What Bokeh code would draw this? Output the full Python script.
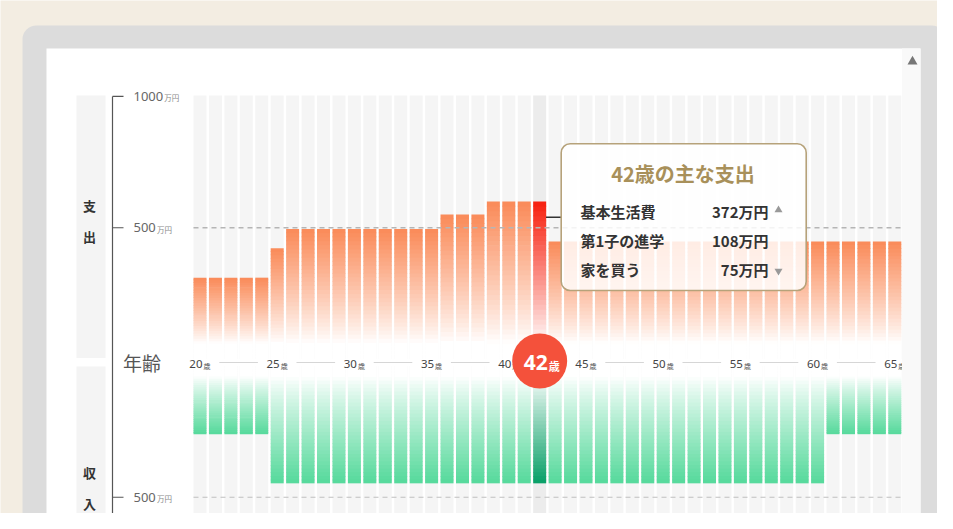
import numpy as np
from bokeh.plotting import figure
from bokeh.models import Range1d, ColumnDataSource
from bokeh.core.properties import value
from bokeh.embed import file_html
from bokeh.resources import INLINE

# ---------------- data ----------------
ages = list(range(20, 66))
expense = [310, 310, 310, 310, 310, 422,
           495, 495, 495, 495, 495, 495, 495, 495, 495, 495,
           550, 550, 550,
           600, 600, 600, 600,
           448, 448, 448, 448, 448, 448, 448, 448, 448, 448, 448, 448,
           448, 448, 448, 448, 448, 448, 448, 448, 448, 448, 448]
income = [260, 260, 260, 260, 260,
          447, 447, 447, 447, 447, 447, 447, 447, 447, 447, 447, 447,
          447, 447, 447, 447, 447, 447, 447, 447, 447, 447, 447, 447,
          447, 447, 447, 447, 447, 447, 447, 447, 447, 447, 447, 447,
          260, 260, 260, 260, 260]
highlight_age = 42
tick_ages = [20, 25, 30, 35, 40, 45, 50, 55, 60, 65]
exp_ticks = [1000, 500]
inc_ticks = [500]
tip_items = ["基本生活費", "第1子の進学", "家を買う"]
tip_values = [372, 108, 75]

# ---------------- geometry / style ----------------
W, H = 937, 513
PITCH = 15.44
X20 = 199.5
S = 0.2627
EZ = 358.6
IZ = 365.4
BW = 13 / PITCH
COL_TOP = 1003
INC_COL_END = 700

BEIGE = "#f3ede2"
JP = value("Noto Sans CJK JP")
LAT = value("Noto Sans")

x_start = 20 - X20 / PITCH
p = figure(width=W, height=H,
           x_range=Range1d(x_start, x_start + W / PITCH),
           y_range=Range1d(-(H - EZ) / S, EZ / S),
           x_axis_type=None, y_axis_type=None,
           toolbar_location=None, output_backend="svg",
           min_border=0, min_border_left=0, min_border_right=0,
           min_border_top=0, min_border_bottom=0,
           outline_line_color=None,
           background_fill_color=BEIGE, border_fill_color=BEIGE)
p.extra_x_ranges = {"px": Range1d(0, W)}
p.extra_y_ranges = {"py": Range1d(H, 0),
                    "inc": Range1d((H - IZ) / S, -IZ / S)}

PX = dict(x_range_name="px", y_range_name="py")

# frame decorations
p.quad(left=22, right=945, top=25, bottom=600, fill_color="#dcdcdc",
       line_color=None, border_radius=14, **PX)
p.quad(left=46, right=920, top=48, bottom=600, fill_color="white",
       line_color=None, **PX)
p.quad(left=[76, 76], right=[105, 105], top=[95, 366], bottom=[357.5, 600],
       fill_color="#f4f4f4", line_color=None, **PX)

# background columns
col_colors = ["#ececec" if a == highlight_age else "#f5f5f5" for a in ages]
p.vbar(x=ages, width=BW, bottom=0, top=COL_TOP, fill_color=col_colors, line_color=None)
p.vbar(x=ages, width=BW, bottom=0, top=INC_COL_END, fill_color=col_colors,
       line_color=None, y_range_name="inc")


def mix(c, f):
    r, g, b = int(c[1:3], 16), int(c[3:5], 16), int(c[5:7], 16)
    return "#%02x%02x%02x" % (round(255 + (r - 255) * f),
                              round(255 + (g - 255) * f),
                              round(255 + (b - 255) * f))


def gradient(xs, vals, cols, vb, n=32, gamma=0.9):
    X, B, T, C = [], [], [], []
    for x, v, c in zip(xs, vals, cols):
        edges = np.linspace(0, v, n + 1)
        for k in range(n):
            e0, e1 = edges[k], edges[k + 1]
            mid = (e0 + e1) / 2
            f = max(0.0, min(1.0, (mid - vb) / (v - vb))) ** gamma
            X.append(x)
            B.append(e0)
            T.append(min(v, e1 + 2.5))
            C.append(mix(c, f))
    return ColumnDataSource(dict(x=X, bottom=B, top=T, color=C))


exp_cols = ["#f7200e" if a == highlight_age else "#fa8a58" for a in ages]
inc_cols = ["#08a067" if a == highlight_age else "#55d99b" for a in ages]
p.vbar(x="x", width=BW, bottom="bottom", top="top", fill_color="color",
       line_color=None, source=gradient(ages, expense, exp_cols, 60))
p.vbar(x="x", width=BW, bottom="bottom", top="top", fill_color="color",
       line_color=None, source=gradient(ages, income, inc_cols, 40),
       y_range_name="inc")

# dashed reference lines
p.segment(x0=[ages[0] - BW / 2], x1=[ages[-1] + BW / 2], y0=exp_ticks[1:], y1=exp_ticks[1:],
          line_color="#b5b5b5", line_width=1.4, line_dash="5 4")
p.segment(x0=[ages[0] - BW / 2], x1=[ages[-1] + BW / 2], y0=inc_ticks, y1=inc_ticks,
          line_color="#c0c0c0", line_width=1.2, line_dash="5 4", y_range_name="inc")

# vertical axis
p.segment(x0=[112], x1=[112], y0=[96], y1=[600], line_color="#555555", line_width=1.2, **PX)
p.segment(x0=[112] * len(exp_ticks), x1=[123] * len(exp_ticks), y0=exp_ticks, y1=exp_ticks,
          line_color="#555555", line_width=1.2, x_range_name="px")
p.segment(x0=[112] * len(inc_ticks), x1=[123] * len(inc_ticks), y0=inc_ticks, y1=inc_ticks,
          line_color="#555555", line_width=1.2, x_range_name="px", y_range_name="inc")


def tick_labels(ticks, rng):
    nums = [str(t) for t in ticks]
    ux = [133 + 7.2 * len(s) + 2 for s in nums]
    kw = dict(x_range_name="px")
    if rng:
        kw["y_range_name"] = rng
    p.text(x=[133] * len(nums), y=ticks, text=nums, text_font=LAT, text_font_size="13px",
           text_color="#666666", text_baseline="middle", **kw)
    p.text(x=ux, y=ticks, text=["万円"] * len(nums), text_font=JP, text_font_size="7.5px",
           text_color="#888888", text_baseline="middle", y_offset=1.5, **kw)


tick_labels(exp_ticks, None)
tick_labels(inc_ticks, "inc")

# side labels
p.text(x=[89, 89], y=[205, 235.5], text=["支", "出"], text_font=JP, text_font_size="13px",
       text_font_style="bold", text_color="#333333", text_align="center",
       text_baseline="middle", **PX)
p.text(x=[89, 89], y=[472, 502.5], text=["収", "入"], text_font=JP, text_font_size="13px",
       text_font_style="bold", text_color="#333333", text_align="center",
       text_baseline="middle", **PX)

# age row
p.text(x=[122.5], y=[362], text=["年齢"], text_font=JP, text_font_size="19px",
       text_color="#555555", text_baseline="middle", **PX)
seg_x0 = [a + 1.25 for a in tick_ages[:-1]]
seg_x1 = [b - 1.25 for b in tick_ages[1:]]
p.segment(x0=seg_x0, x1=seg_x1, y0=[362] * len(seg_x0), y1=[362] * len(seg_x0),
          line_color="#d6d6d6", line_width=1.2, y_range_name="py")
p.text(x=tick_ages, y=[363] * len(tick_ages), text=[str(a) for a in tick_ages],
       text_font=LAT, text_font_size="11.5px", text_color="#444444",
       text_align="right", text_baseline="middle", x_offset=2.5, y_range_name="py")
p.text(x=tick_ages, y=[365] * len(tick_ages), text=["歳"] * len(tick_ages),
       text_font=JP, text_font_size="7px", text_color="#555555",
       text_align="left", text_baseline="middle", x_offset=3.5, y_range_name="py")

# highlight marker
p.scatter(x=[highlight_age], y=[360.5], size=55, fill_color="#f4513b", line_color=None,
          y_range_name="py")
p.text(x=[highlight_age], y=[361.5], text=[str(highlight_age)], text_font=LAT,
       text_font_size="21px", text_font_style="bold", text_color="white",
       text_align="right", text_baseline="middle", x_offset=8, y_range_name="py")
p.text(x=[highlight_age], y=[365], text=["歳"], text_font=JP,
       text_font_size="11px", text_font_style="bold", text_color="white",
       text_align="left", text_baseline="middle", x_offset=9, y_range_name="py")

# tooltip
p.segment(x0=[545.5], x1=[561], y0=[216.7], y1=[216.7], line_color="#333333",
          line_width=1.6, **PX)
p.quad(left=560.7, right=805.7, top=143.3, bottom=290, fill_color="white", fill_alpha=0.84,
       line_color="#b6a27a", line_width=1.6, border_radius=9, **PX)
p.text(x=[682.5], y=[172.5], text=[f"{highlight_age}歳の主な支出"], text_font=JP,
       text_font_size="20px", text_font_style="bold", text_color="#a8905a",
       text_align="center", text_baseline="middle", **PX)
row_y = [210.5, 239.5, 268.5]
p.text(x=[580] * 3, y=row_y, text=tip_items, text_font=JP, text_font_size="15px",
       text_font_style="bold", text_color="#333333", text_baseline="middle", **PX)
p.text(x=[768] * 3, y=row_y, text=[f"{v}万円" for v in tip_values], text_font=JP,
       text_font_size="15px", text_font_style="bold", text_color="#333333",
       text_align="right", text_baseline="middle", **PX)
p.scatter(x=[778], y=[209.5], marker="triangle", size=8, fill_color="#999999",
          line_color=None, **PX)
p.scatter(x=[778], y=[270.5], marker="inverted_triangle", size=8, fill_color="#999999",
          line_color=None, **PX)

# scrollbar strip
p.quad(left=901.5, right=920, top=48, bottom=600, fill_color="#f9f9f9", line_color=None, **PX)
p.scatter(x=[912], y=[61], marker="triangle", size=10, fill_color="#777777",
          line_color=None, **PX)

open("out.html", "w").write(file_html(p, INLINE))
